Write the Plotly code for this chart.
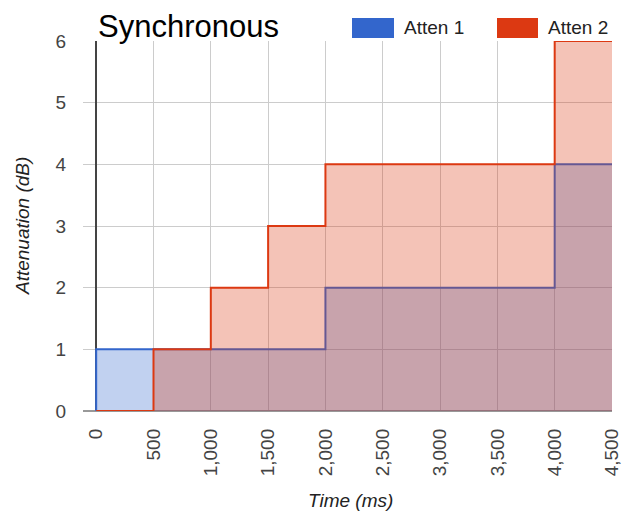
import plotly.graph_objects as go

# ---- data ----
time_ms = [0, 500, 1000, 1500, 2000, 2500, 3000, 3500, 4000, 4500]
atten1 = [1, 1, 1, 1, 2, 2, 2, 2, 4, 4]
atten2 = [0, 1, 2, 3, 4, 4, 4, 4, 6, 6]
series_names = ["Atten 1", "Atten 2"]
series_colors = ["#3366CC", "#DC3912"]
x_ticks = [0, 500, 1000, 1500, 2000, 2500, 3000, 3500, 4000, 4500]
x_tick_text = ["0", "500", "1,000", "1,500", "2,000", "2,500", "3,000", "3,500", "4,000", "4,500"]
y_ticks = [0, 1, 2, 3, 4, 5, 6]

FONT = "Liberation Sans, Arial, sans-serif"


def rgba(hex_color, a):
    h = hex_color.lstrip("#")
    r, g, b = int(h[0:2], 16), int(h[2:4], 16), int(h[4:6], 16)
    return f"rgba({r},{g},{b},{a})"


fig = go.Figure()
for name, vals, col in zip(series_names, [atten1, atten2], series_colors):
    xs = [time_ms[0]] + time_ms
    ys = [0] + vals
    fig.add_trace(go.Scatter(
        x=xs, y=ys, name=name, mode="lines",
        line=dict(color=col, width=2, shape="hv"),
        fill="tozeroy", fillcolor=rgba(col, 0.3),
        showlegend=False, hoverinfo="skip",
    ))

fig.update_layout(
    width=628, height=513,
    margin=dict(l=83, r=16, t=41, b=102),
    paper_bgcolor="white", plot_bgcolor="white",
    font=dict(family=FONT, size=19, color="#444"),
    xaxis=dict(
        range=[-115, 4500], tickvals=x_ticks, ticktext=x_tick_text,
        tickangle=-90, showgrid=True, gridcolor="#cccccc", gridwidth=1,
        zeroline=True, zerolinecolor="#444444", zerolinewidth=1.5,
        showline=False, ticks="", ticklabelstandoff=13, automargin=False,
        tickfont=dict(size=19, color="#444"),
    ),
    yaxis=dict(
        range=[0, 6], tickvals=y_ticks, showgrid=True, gridcolor="#cccccc",
        gridwidth=1, zeroline=True, zerolinecolor="#999999", zerolinewidth=1.5,
        showline=False, ticks="", ticklabelstandoff=16, automargin=False,
        tickfont=dict(size=19, color="#444"),
    ),
    showlegend=False,
)

# title
fig.add_annotation(text="Synchronous", xref="paper", yref="paper",
                   x=(96 - 83) / 529, y=1.0, xanchor="left", yanchor="bottom",
                   yshift=-5, showarrow=False,
                   font=dict(family=FONT, size=31, color="#000"))

# legend (drawn as boxes + labels)
legend_items = [(352, 394, 402), (497, 538, 546)]
for (x0, x1, tx), name, col in zip(legend_items, series_names, series_colors):
    fig.add_shape(type="rect", xref="paper", yref="paper",
                  x0=(x0 - 83) / 529, x1=(x1 - 83) / 529,
                  y0=(411 - 38) / 370, y1=(411 - 18) / 370,
                  fillcolor=col, line=dict(width=0))
    fig.add_annotation(text=name, xref="paper", yref="paper",
                       x=(tx - 83) / 529, y=(411 - 28) / 370,
                       xanchor="left", yanchor="middle", showarrow=False,
                       font=dict(family=FONT, size=19, color="#222"))

# axis titles
fig.add_annotation(text="<i>Attenuation (dB)</i>", xref="paper", yref="paper",
                   x=(22 - 83) / 529, y=0.5, xanchor="center", yanchor="middle",
                   textangle=-90, showarrow=False,
                   font=dict(family=FONT, size=19, color="#222"))
fig.add_annotation(text="<i>Time (ms)</i>", xref="paper", yref="paper",
                   x=(350 - 83) / 529, y=(411 - 500) / 370,
                   xanchor="center", yanchor="middle", showarrow=False,
                   font=dict(family=FONT, size=19, color="#222"))

fig.write_html("out.html", config={"displayModeBar": False},
               post_script="document.body.style.margin='0';document.body.style.padding='0';")
